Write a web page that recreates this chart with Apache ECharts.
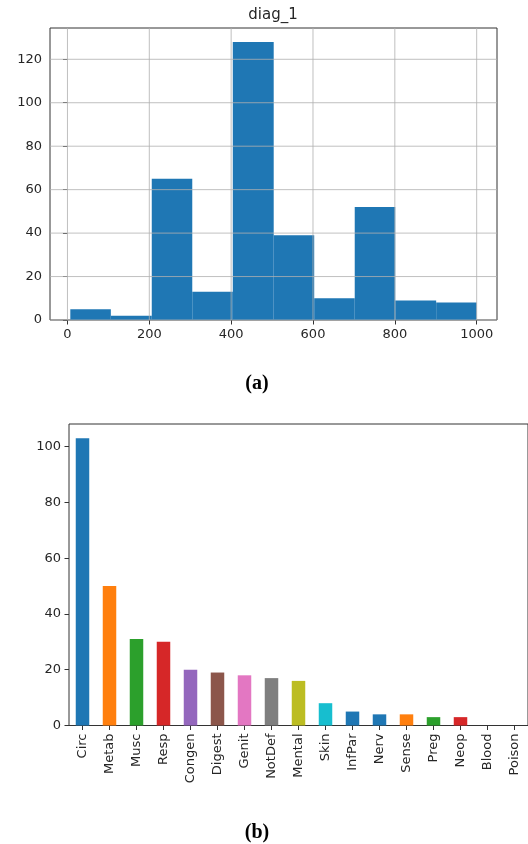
<!DOCTYPE html>
<html>
<head>
<meta charset="utf-8">
<script src="https://cdn.jsdelivr.net/npm/echarts@6/dist/echarts.min.js"></script>
<style>
html,body{margin:0;padding:0;background:#fff;}
#c{width:528px;height:844px;}
</style>
</head>
<body>
<div id="c"></div>
<script>
// ---- (a) histogram of diag_1 ----
const binStarts = [7, 106, 206, 305, 404, 504, 603, 702, 801, 901];
const binEnds   = [106, 206, 305, 404, 504, 603, 702, 801, 901, 1000];
const binCounts = [5, 2, 65, 13, 128, 39, 10, 52, 9, 8];
const histXTicks = [0, 200, 400, 600, 800, 1000];
const histYTicks = [0, 20, 40, 60, 80, 100, 120];

// ---- (b) category counts ----
const categories = ['Circ','Metab','Musc','Resp','Congen','Digest','Genit','NotDef','Mental','Skin','InfPar','Nerv','Sense','Preg','Neop','Blood','Poison'];
const catCounts  = [103, 50, 31, 30, 20, 19, 18, 17, 16, 8, 5, 4, 4, 3, 3, 0, 0];
const barYTicks  = [0, 20, 40, 60, 80, 100];
const barColors  = ['#1f77b4','#ff7f0e','#2ca02c','#d62728','#9467bd','#8c564b','#e377c2','#7f7f7f','#bcbd22','#17becf','#1f77b4','#1f77b4','#ff7f0e','#2ca02c','#d62728','#9467bd','#8c564b'];

const FONT = 'DejaVu Sans';
const TXT = '#262626';
const LINE = '#333333';
const FS = 13;
const plain = v => String(v);

const chart = echarts.init(document.getElementById('c'), null, {renderer: 'canvas'});

const histData = binStarts.map((s, i) => [s, binEnds[i], binCounts[i]]);
const histMaxY = 134.4;
const histMinX = -42.65, histMaxX = 1049.65;

const option = {
  animation: false,
  backgroundColor: '#ffffff',
  grid: [
    {left: 50, right: 31, top: 28, bottom: 524, show: true, borderColor: LINE, borderWidth: 1, backgroundColor: 'transparent'},
    {left: 69, right: -3, top: 424, bottom: 118.5, show: true, borderColor: LINE, borderWidth: 1, backgroundColor: 'transparent'}
  ],
  xAxis: [
    {
      type: 'value', gridIndex: 0, min: histMinX, max: histMaxX,
      axisLine: {show: false},
      axisTick: {show: true, inside: false, length: 4.5, lineStyle: {color: LINE}, customValues: histXTicks},
      axisLabel: {show: true, margin: 8, color: TXT, fontFamily: FONT, fontSize: FS, customValues: histXTicks, formatter: plain},
      splitLine: {show: false}
    },
    {
      type: 'category', gridIndex: 1, data: categories, boundaryGap: true,
      axisLine: {show: false},
      axisTick: {show: true, alignWithLabel: true, length: 4.5, lineStyle: {color: LINE}},
      axisLabel: {show: true, rotate: 90, margin: 8, color: TXT, fontFamily: FONT, fontSize: FS, interval: 0},
      splitLine: {show: false}
    }
  ],
  yAxis: [
    {
      type: 'value', gridIndex: 0, min: 0, max: histMaxY,
      axisLine: {show: false},
      axisTick: {show: true, length: 4.5, lineStyle: {color: LINE}, customValues: histYTicks},
      axisLabel: {show: true, margin: 8, color: TXT, fontFamily: FONT, fontSize: FS, customValues: histYTicks, formatter: plain},
      splitLine: {show: false}
    },
    {
      type: 'value', gridIndex: 1, min: 0, max: 108.15,
      axisLine: {show: false},
      axisTick: {show: true, length: 4.5, lineStyle: {color: LINE}, customValues: barYTicks},
      axisLabel: {show: true, margin: 8, color: TXT, fontFamily: FONT, fontSize: FS, customValues: barYTicks, formatter: plain},
      splitLine: {show: false}
    }
  ],
  series: [
    {
      type: 'custom', xAxisIndex: 0, yAxisIndex: 0,
      data: histData,
      encode: {x: [0, 1], y: 2},
      renderItem: function (params, api) {
        const p0 = api.coord([api.value(0), 0]);
        const p1 = api.coord([api.value(1), api.value(2)]);
        return {
          type: 'rect',
          shape: {x: p0[0], y: p1[1], width: p1[0] - p0[0], height: p0[1] - p1[1]},
          style: {fill: '#1f77b4'}
        };
      },
      z: 2
    },
    {
      type: 'custom', xAxisIndex: 0, yAxisIndex: 0,
      data: histXTicks.map(v => [v]),
      encode: {x: 0},
      renderItem: function (params, api) {
        const a = api.coord([api.value(0), 0]);
        const b = api.coord([api.value(0), histMaxY]);
        return {type: 'line', shape: {x1: a[0], y1: a[1], x2: b[0], y2: b[1]}, style: {stroke: '#b0b0b0', lineWidth: 1, opacity: 0.8}};
      },
      silent: true, z: 3
    },
    {
      type: 'custom', xAxisIndex: 0, yAxisIndex: 0,
      data: histYTicks.map(v => [v]),
      encode: {y: 0},
      renderItem: function (params, api) {
        const a = api.coord([histMinX, api.value(0)]);
        const b = api.coord([histMaxX, api.value(0)]);
        return {type: 'line', shape: {x1: a[0], y1: a[1], x2: b[0], y2: b[1]}, style: {stroke: '#b0b0b0', lineWidth: 1, opacity: 0.8}};
      },
      silent: true, z: 3
    },
    {
      type: 'bar', xAxisIndex: 1, yAxisIndex: 1,
      barWidth: '50%',
      data: catCounts.map((v, i) => ({value: v, itemStyle: {color: barColors[i]}})),
      z: 2
    }
  ],
  graphic: [
    {type: 'text', x: 273, y: 15, style: {text: 'diag_1', fontFamily: FONT, fontSize: 15, fill: TXT, align: 'center', verticalAlign: 'middle'}},
    {type: 'text', x: 257, y: 384, style: {text: '(a)', fontFamily: 'Liberation Serif', fontWeight: 'bold', fontSize: 20, fill: '#000', align: 'center', verticalAlign: 'middle'}},
    {type: 'text', x: 257, y: 833, style: {text: '(b)', fontFamily: 'Liberation Serif', fontWeight: 'bold', fontSize: 20, fill: '#000', align: 'center', verticalAlign: 'middle'}}
  ]
};
chart.setOption(option);
</script>
</body>
</html>
